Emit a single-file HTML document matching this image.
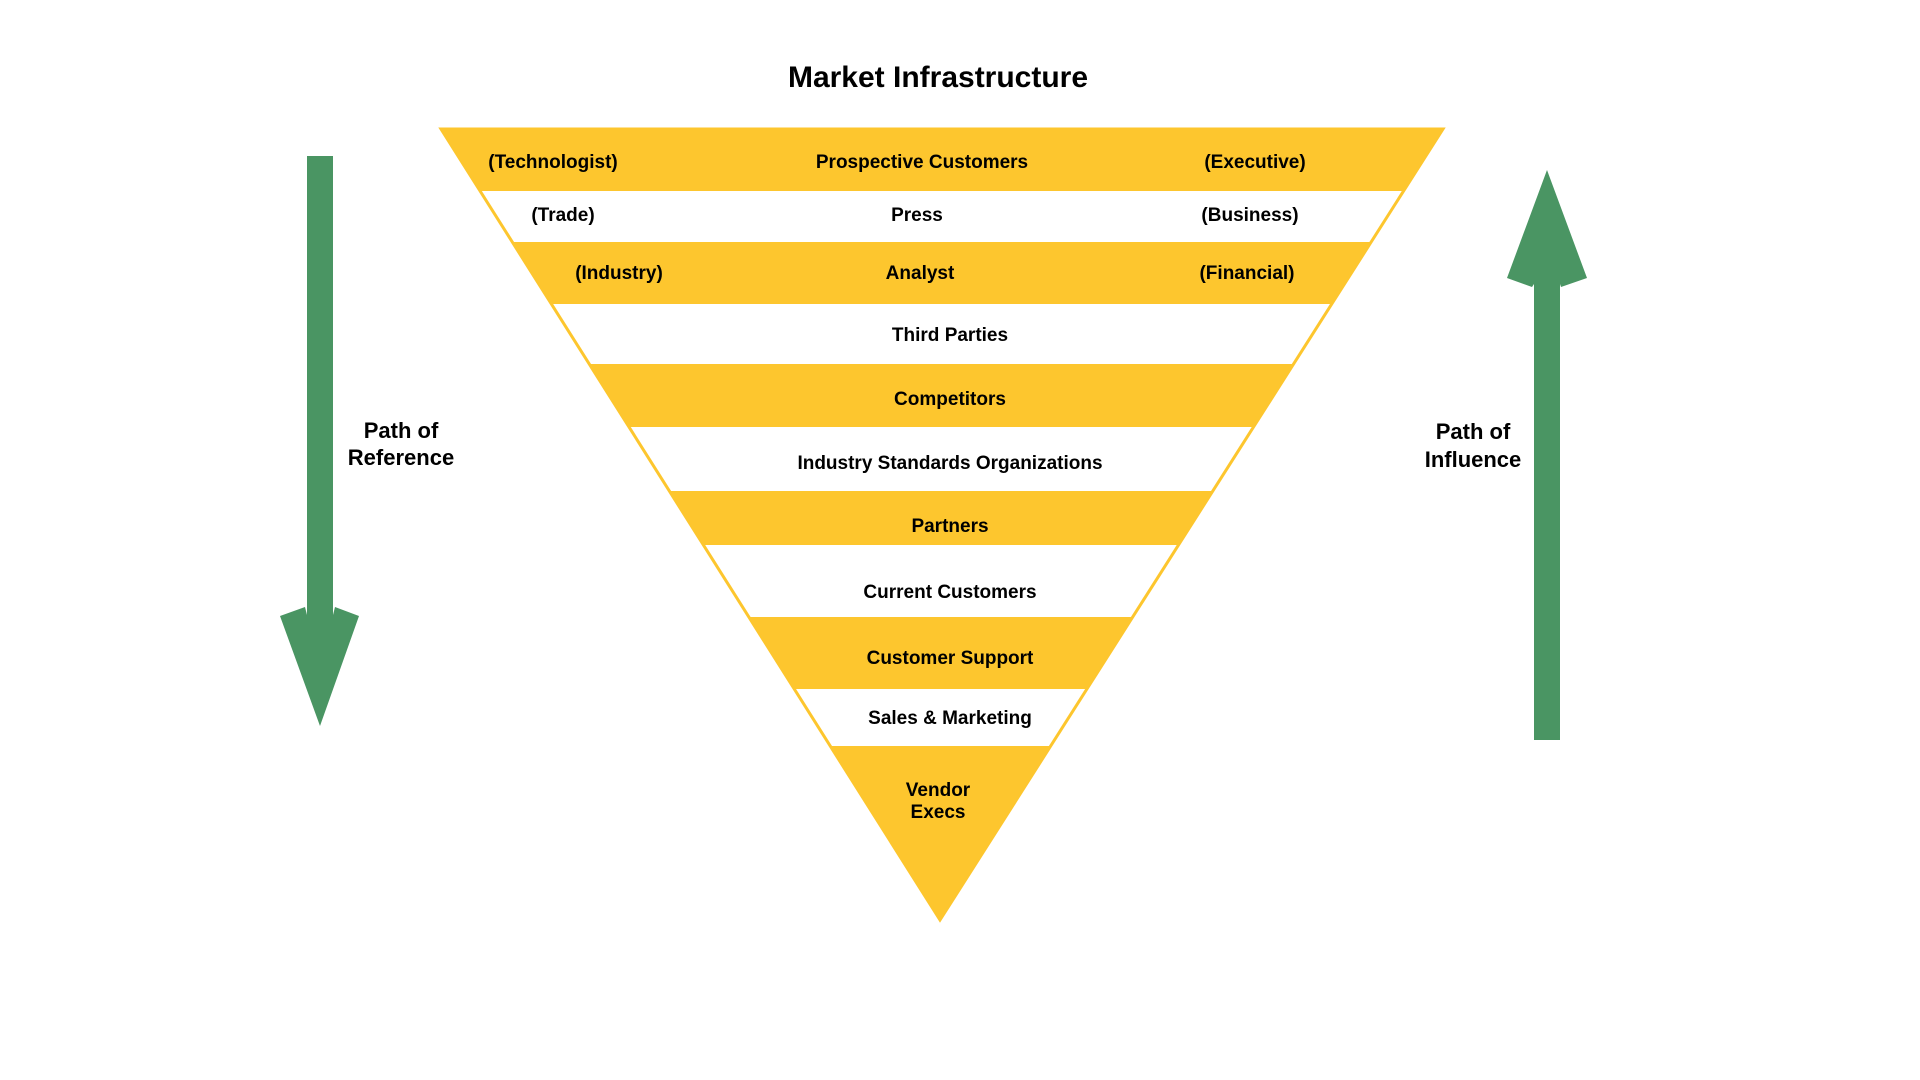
<!DOCTYPE html>
<html><head><meta charset="utf-8"><style>
html,body{margin:0;padding:0;background:#fff;width:1920px;height:1080px;overflow:hidden}
svg text{font-family:"Liberation Sans Narrow","Liberation Sans",sans-serif;font-weight:bold;fill:#000}
</style></head><body>
<svg width="1920" height="1080" viewBox="0 0 1920 1080" xmlns="http://www.w3.org/2000/svg">
<text x="938" y="87" text-anchor="middle" style="font-family:'Liberation Sans',sans-serif;font-size:30px;font-weight:bold">Market Infrastructure</text>
<defs><clipPath id="tri"><polygon points="441,129 1443,129 940,920"/></clipPath></defs>
<g clip-path="url(#tri)">
<rect x="400" y="127" width="1100" height="64" fill="#fdc62e"/>
<rect x="400" y="242" width="1100" height="62" fill="#fdc62e"/>
<rect x="400" y="364" width="1100" height="63" fill="#fdc62e"/>
<rect x="400" y="491" width="1100" height="54" fill="#fdc62e"/>
<rect x="400" y="617" width="1100" height="72" fill="#fdc62e"/>
<rect x="400" y="746" width="1100" height="180" fill="#fdc62e"/>
</g>
<polygon points="441,129 1443,129 940,920" fill="none" stroke="#fdc62e" stroke-width="3"/>
<g font-size="19">
<text x="553" y="168" text-anchor="middle">(Technologist)</text>
<text x="922" y="168" text-anchor="middle">Prospective Customers</text>
<text x="1255" y="168" text-anchor="middle">(Executive)</text>
<text x="563" y="221" text-anchor="middle">(Trade)</text>
<text x="917" y="221" text-anchor="middle">Press</text>
<text x="1250" y="221" text-anchor="middle">(Business)</text>
<text x="619" y="279" text-anchor="middle">(Industry)</text>
<text x="920" y="279" text-anchor="middle">Analyst</text>
<text x="1247" y="279" text-anchor="middle">(Financial)</text>
<text x="950" y="341" text-anchor="middle">Third Parties</text>
<text x="950" y="405" text-anchor="middle">Competitors</text>
<text x="950" y="469" text-anchor="middle">Industry Standards Organizations</text>
<text x="950" y="532" text-anchor="middle">Partners</text>
<text x="950" y="598" text-anchor="middle">Current Customers</text>
<text x="950" y="664" text-anchor="middle">Customer Support</text>
<text x="950" y="724" text-anchor="middle">Sales &amp; Marketing</text>
<text x="938" y="796" text-anchor="middle">Vendor</text>
<text x="938" y="818" text-anchor="middle">Execs</text>
</g>
<polygon points="307,156 333,156 333,615 335,607 359,616 320,726 280,616 305,607 307,615" fill="#4a9563"/>
<polygon points="1547,170 1587,278 1561,287 1560,284 1560,740 1534,740 1534,284 1532,287 1507,278" fill="#4a9563"/>
<g font-size="22">
<text x="401" y="438" text-anchor="middle">Path of</text>
<text x="401" y="465" text-anchor="middle">Reference</text>
<text x="1473" y="439" text-anchor="middle">Path of</text>
<text x="1473" y="467" text-anchor="middle">Influence</text>
</g>
</svg>
</body></html>
